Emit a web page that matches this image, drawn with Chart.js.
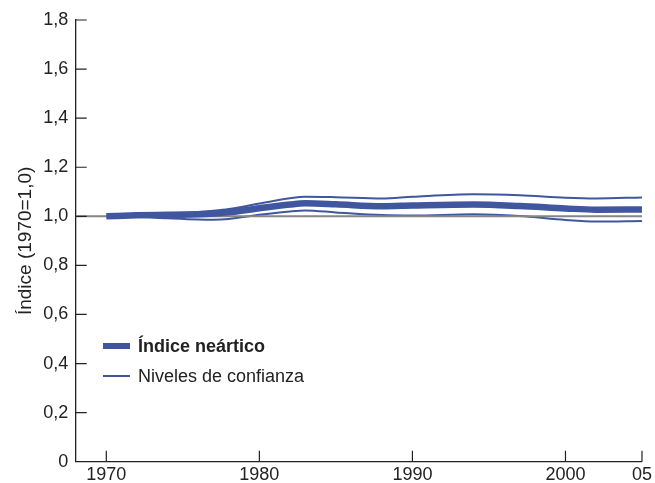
<!DOCTYPE html>
<html>
<head>
<meta charset="utf-8">
<script src="https://cdn.jsdelivr.net/npm/chart.js@4.4.1/dist/chart.umd.min.js"></script>
<style>
  html, body { margin: 0; padding: 0; background: #ffffff; }
  #wrap { position: relative; width: 655px; height: 483px; }
  canvas { display: block; }
  #legend { position: absolute; left: 103px; top: 331px; font-family: "Liberation Sans", Arial, sans-serif; font-size: 18px; color: #222; }
  .item { position: relative; height: 30px; display: flex; align-items: center; }
  .swatch { width: 27px; margin-right: 8px; }
</style>
</head>
<body>
<div id="wrap">
  <canvas id="c" width="655" height="483"></canvas>
  <div id="legend"></div>
</div>
<script>
// ---- data ----
const years = [1970, 1972, 1974, 1976, 1977, 1978, 1980, 1982, 1983, 1985, 1988, 1990, 1994, 1997, 2000, 2002, 2005];
const indexValues = [1.000, 1.004, 1.006, 1.008, 1.011, 1.016, 1.033, 1.048, 1.053, 1.049, 1.041, 1.044, 1.048, 1.042, 1.032, 1.027, 1.028];
const upperValues = [1.000, 1.008, 1.013, 1.018, 1.023, 1.030, 1.052, 1.074, 1.080, 1.078, 1.073, 1.080, 1.090, 1.086, 1.076, 1.073, 1.077];
const lowerValues = [1.000, 0.998, 0.992, 0.987, 0.986, 0.989, 1.006, 1.020, 1.024, 1.016, 1.005, 1.003, 1.008, 1.001, 0.985, 0.979, 0.981];
const baselineYears = [1968, 2005];
const baselineValues = [1.0, 1.0];

const xTicks = [1970, 1980, 1990, 2000, 2005];
const xTickLabels = ['1970', '1980', '1990', '2000', '05'];
const yTicks = [0, 0.2, 0.4, 0.6, 0.8, 1.0, 1.2, 1.4, 1.6, 1.8];
const yTickLabels = ['0', '0,2', '0,4', '0,6', '0,8', '1,0', '1,2', '1,4', '1,6', '1,8'];

const seriesLabels = ['Índice neártico', 'Niveles de confianza'];
const yTitle = 'Índice (1970=1,0)';

const BLUE = '#40579f';
const GRAY = '#858585';
const INK = '#222222';
const FONT = '"Liberation Sans", Arial, sans-serif';

const pts = (xs, ys) => xs.map((x, i) => ({ x: x, y: ys[i] }));

const insideTicks = {
  id: 'insideTicks',
  afterDatasetsDraw(chart) {
    const ctx = chart.ctx;
    const xs = chart.scales.x, ys = chart.scales.y;
    const area = chart.chartArea;
    ctx.save();
    ctx.strokeStyle = INK;
    ctx.lineWidth = 1.2;
    ctx.beginPath();
    xTicks.forEach(v => {
      const px = xs.getPixelForValue(v);
      ctx.moveTo(px, area.bottom);
      ctx.lineTo(px, area.bottom - 11);
    });
    yTicks.forEach(v => {
      if (v === 0) return;
      const py = ys.getPixelForValue(v);
      ctx.moveTo(area.left, py);
      ctx.lineTo(area.left + 11, py);
    });
    ctx.stroke();
    ctx.restore();
  }
};

const chart = new Chart(document.getElementById('c'), {
  type: 'line',
  data: {
    datasets: [
      { label: seriesLabels[0], data: pts(years, indexValues), borderColor: BLUE, borderWidth: 6.5, pointRadius: 0, cubicInterpolationMode: 'monotone', order: 0, borderCapStyle: 'butt' },
      { label: 'baseline', data: pts(baselineYears, baselineValues), borderColor: GRAY, borderWidth: 2, pointRadius: 0, order: 1 },
      { label: seriesLabels[1], data: pts(years, upperValues), borderColor: BLUE, borderWidth: 2, pointRadius: 0, cubicInterpolationMode: 'monotone', order: 2 },
      { label: seriesLabels[1] + ' (inf.)', data: pts(years, lowerValues), borderColor: BLUE, borderWidth: 2, pointRadius: 0, cubicInterpolationMode: 'monotone', order: 2 }
    ]
  },
  options: {
    responsive: false,
    animation: false,
    events: [],
    layout: { padding: { top: 20, right: 10.8, bottom: 0, left: 0 } },
    plugins: { legend: { display: false }, tooltip: { enabled: false } },
    scales: {
      x: {
        type: 'linear',
        min: 1968,
        max: 2005,
        afterBuildTicks: s => { s.ticks = xTicks.map(v => ({ value: v })); },
        afterFit: s => { s.height = 21.3; },
        grid: { display: true, drawOnChartArea: false, drawTicks: false, color: 'transparent' },
        border: { display: true, color: INK, width: 1.3 },
        ticks: { color: INK, font: { family: FONT, size: 18 }, padding: 3, maxRotation: 0, autoSkip: false,
          callback: (v, i) => xTickLabels[i] }
      },
      y: {
        min: 0,
        max: 1.8,
        afterBuildTicks: s => { s.ticks = yTicks.map(v => ({ value: v })); },
        afterFit: s => { s.width = 75.7; },
        grid: { display: true, drawOnChartArea: false, drawTicks: false, color: 'transparent' },
        border: { display: true, color: INK, width: 1.3 },
        ticks: { color: INK, font: { family: FONT, size: 18 }, padding: 7.5, autoSkip: false,
          callback: (v, i) => yTickLabels[i] },
        title: { display: true, text: yTitle, color: INK, font: { family: FONT, size: 19 }, padding: { top: 14, bottom: 0 } }
      }
    }
  },
  plugins: [insideTicks]
});

// HTML legend built from the datasets
const legend = document.getElementById('legend');
[chart.data.datasets[0], chart.data.datasets[2]].forEach((ds, i) => {
  const item = document.createElement('div');
  item.className = 'item';
  const sw = document.createElement('div');
  sw.className = 'swatch';
  sw.style.height = (i === 0 ? 6 : 1.6) + 'px';
  sw.style.background = ds.borderColor;
  const tx = document.createElement('span');
  tx.textContent = seriesLabels[i];
  if (i === 0) tx.style.fontWeight = 'bold';
  item.appendChild(sw);
  item.appendChild(tx);
  legend.appendChild(item);
});
</script>
</body>
</html>
